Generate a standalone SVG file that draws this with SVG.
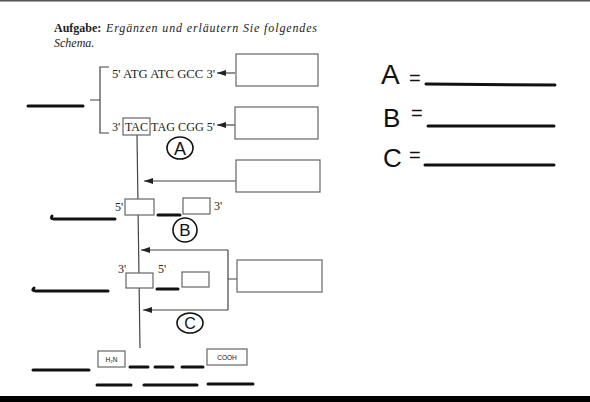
<svg xmlns="http://www.w3.org/2000/svg" width="590" height="402" viewBox="0 0 590 402">
<style>
.ser{font-family:"Liberation Serif","Times New Roman",serif;fill:#222}
.seq{font-size:12px}
.box{fill:#fff;stroke:#666;stroke-width:1.2}
.ln{stroke:#444;stroke-width:1.2;fill:none}
.th{stroke:#111;stroke-width:3;stroke-linecap:round;fill:none}
.hw{font-family:"Liberation Sans",Arial,sans-serif;fill:#111}
.circ{fill:none;stroke:#111;stroke-width:1.6}
</style>
<defs>
<marker id="ah" markerWidth="9" markerHeight="6" refX="9" refY="3" orient="auto" markerUnits="userSpaceOnUse">
<path d="M0,0 L9,3 L0,6 Z" fill="#222"/>
</marker>
</defs>
<rect x="0" y="0" width="590" height="402" fill="#fff"/>
<rect x="0" y="0" width="590" height="1.5" fill="#555"/>
<rect x="0" y="396" width="590" height="6" fill="#000"/>

<g id="title">
<text class="ser" x="54" y="32" font-size="12"><tspan font-weight="bold">Aufgabe:</tspan></text>
<text class="ser" x="106" y="32" font-size="12" font-style="italic" textLength="211" lengthAdjust="spacing">Ergänzen und erläutern Sie folgendes</text>
<text class="ser" x="54" y="47" font-size="12" font-style="italic">Schema.</text>
</g>

<g id="connectors">
<path class="ln" d="M109,67 H100 V133 H109 M90,100 H100"/>
<line class="ln" x1="235" y1="73" x2="217" y2="73" marker-end="url(#ah)"/>
<line class="ln" x1="235" y1="125" x2="217" y2="125" marker-end="url(#ah)"/>
<line class="ln" x1="137" y1="135" x2="140" y2="348"/>
<line class="ln" x1="236" y1="181" x2="144" y2="181" marker-end="url(#ah)"/>
<path class="ln" d="M228,250 V310 M228,279 H237"/>
<line class="ln" x1="228" y1="250" x2="141" y2="250" marker-end="url(#ah)"/>
<line class="ln" x1="228" y1="310" x2="143" y2="310" marker-end="url(#ah)"/>
</g>

<g id="dna">
<line class="th" x1="28" y1="106" x2="83" y2="106"/>
<text class="ser seq" x="112" y="78" textLength="103" lengthAdjust="spacingAndGlyphs">5' ATG ATC GCC 3'</text>
<text class="ser seq" x="112" y="131">3'</text>
<rect class="box" x="123" y="118" width="27" height="17" fill="none"/>
<text class="ser seq" x="125" y="131">TAC</text>
<text class="ser seq" x="151" y="131" textLength="64" lengthAdjust="spacingAndGlyphs">TAG CGG 5'</text>
</g>

<g id="box1"><rect class="box" x="236" y="54" width="82" height="32"/></g>
<g id="box2"><rect class="box" x="235" y="107" width="83" height="32"/></g>
<g id="box3"><rect class="box" x="236" y="160" width="84" height="32"/></g>
<g id="box4"><rect class="box" x="237" y="260" width="85" height="32"/></g>

<g id="circleA">
<ellipse class="circ" cx="180" cy="148" rx="13" ry="11"/>
<text class="hw" x="180" y="155" font-size="18" text-anchor="middle">A</text>
</g>

<g id="rowB">
<text class="ser seq" x="115" y="211">5'</text>
<rect class="box" x="125" y="199" width="29" height="16"/>
<rect class="box" x="183" y="198" width="27" height="16"/>
<text class="ser seq" x="214" y="210">3'</text>
<line class="th" x1="158" y1="215" x2="180" y2="215"/>
<path class="th" d="M115,219 H54 Q50,219 52,216"/>
</g>

<g id="circleB">
<ellipse class="circ" cx="185" cy="230" rx="12" ry="12"/>
<text class="hw" x="185" y="236" font-size="17" text-anchor="middle">B</text>
</g>

<g id="rowC">
<text class="ser seq" x="118" y="273">3'</text>
<text class="ser seq" x="158" y="273">5'</text>
<rect class="box" x="126" y="273" width="27" height="15"/>
<rect class="box" x="182" y="272" width="27" height="15"/>
<line class="th" x1="157" y1="289" x2="178" y2="289"/>
<path class="th" d="M108,291 H36 Q31,291 34,288"/>
</g>

<g id="circleC">
<ellipse class="circ" cx="190" cy="323" rx="13" ry="10"/>
<text class="hw" x="190" y="329" font-size="16" text-anchor="middle">C</text>
</g>

<g id="protein">
<rect class="box" x="98" y="351" width="27" height="16"/>
<text class="hw" x="111.5" y="362" font-size="6.5" text-anchor="middle">H₂N</text>
<rect class="box" x="207" y="349" width="40" height="16"/>
<text class="hw" x="227" y="360" font-size="6.5" text-anchor="middle">COOH</text>
<line class="th" x1="130" y1="367" x2="148" y2="367"/>
<line class="th" x1="155" y1="367" x2="173" y2="367"/>
<line class="th" x1="182" y1="367" x2="203" y2="367"/>
<line class="th" x1="33" y1="370" x2="89" y2="370" stroke-width="2.5"/>
<line class="th" x1="97" y1="385" x2="131" y2="385"/>
<line class="th" x1="144" y1="385" x2="197" y2="385"/>
<line class="th" x1="208" y1="384" x2="253" y2="384"/>
</g>

<g id="legend">
<text class="hw" x="381" y="84" font-size="28" font-weight="300">A</text>
<text class="hw" x="409" y="85" font-size="20">=</text>
<line class="th" x1="426" y1="84" x2="555" y2="85" stroke-width="2.5"/>
<text class="hw" x="383" y="127" font-size="26" font-weight="300">B</text>
<text class="hw" x="411" y="120" font-size="20">=</text>
<line class="th" x1="428" y1="126" x2="554" y2="126" stroke-width="3"/>
<text class="hw" x="383" y="167" font-size="26" font-weight="300">C</text>
<text class="hw" x="409" y="162" font-size="20">=</text>
<line class="th" x1="425" y1="165" x2="554" y2="165" stroke-width="2.5"/>
</g>
</svg>
